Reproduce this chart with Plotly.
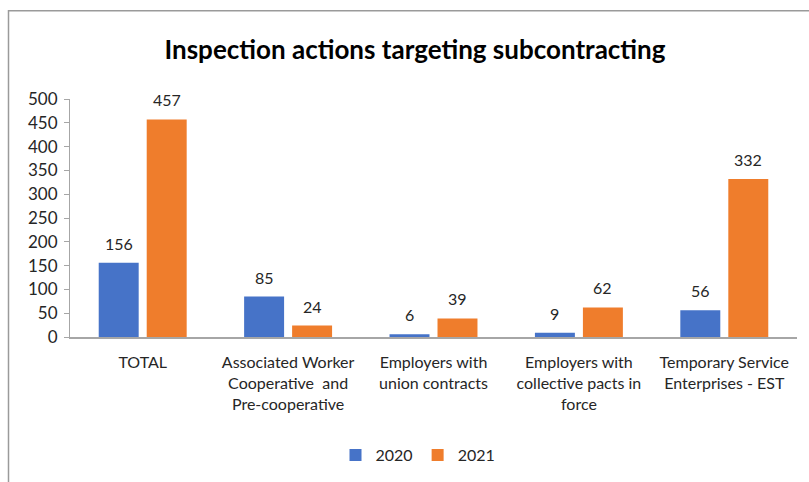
import plotly.graph_objects as go

categories = ["TOTAL",
              "Associated Worker<br>Cooperative  and<br>Pre-cooperative",
              "Employers with<br>union contracts",
              "Employers with<br>collective pacts in<br>force",
              "Temporary Service<br>Enterprises - EST"]
values_2020 = [156, 85, 6, 9, 56]
values_2021 = [457, 24, 39, 62, 332]
series_names = ["2020", "2021"]
y_ticks = [0, 50, 100, 150, 200, 250, 300, 350, 400, 450, 500]

W, H = 809, 482
L, R, T, B = 70, 12, 99, 144
FONT = "Lato, Carlito, Calibri, sans-serif"
TXT = "#262626"
FS = 16

fig = go.Figure()
fig.add_trace(go.Bar(x=categories, y=values_2020, name=series_names[0],
                     marker=dict(color="#4673C8", line=dict(width=0))))
fig.add_trace(go.Bar(x=categories, y=values_2021, name=series_names[1],
                     marker=dict(color="#EF7D2C", line=dict(width=0))))

for vals, shift in ((values_2020, -24), (values_2021, 24)):
    for c, v in zip(categories, vals):
        fig.add_annotation(x=c, y=v, text=str(v), showarrow=False,
                           xshift=shift, yanchor="bottom", yshift=8,
                           font=dict(size=FS, color=TXT, family=FONT))

pw = W - L - R
ph = H - T - B
fig.add_shape(type="rect", xref="paper", yref="paper",
              x0=(8.5 - L) / pw, x1=1 + (R + 20) / pw,
              y0=-(B + 20) / ph, y1=1 + (T - 10.5) / ph,
              line=dict(color="#9a9a9a", width=1.5), fillcolor="rgba(0,0,0,0)",
              layer="below")

fig.update_layout(
    width=W, height=H,
    margin=dict(l=L, r=R, t=T, b=B),
    paper_bgcolor="white", plot_bgcolor="white",
    barmode="group", bargap=0.34, bargroupgap=0.167,
    title=dict(text="<b>Inspection actions targeting subcontracting</b>",
               x=(415) / W, xanchor="center", y=1 - 50 / H, yanchor="middle",
               font=dict(size=26, color="#000000", family=FONT)),
    font=dict(family=FONT, color=TXT, size=FS),
    legend=dict(orientation="h", x=(418 - L) / pw, xanchor="center",
                y=-(455 - (H - B)) / ph, yanchor="middle",
                font=dict(size=FS, color=TXT, family=FONT),
                itemwidth=30, traceorder="normal"),
    showlegend=True,
)
fig.update_yaxes(range=[0, 500], tickvals=y_ticks, showgrid=False,
                 showline=True, linecolor="#a6a6a6", linewidth=1,
                 ticks="outside", ticklen=5, tickcolor="#a6a6a6",
                 ticklabelstandoff=3,
                 tickfont=dict(size=17, color=TXT, family=FONT), zeroline=False)
fig.update_xaxes(showline=True, linecolor="#a6a6a6", linewidth=1.5,
                 ticks="", ticklabelstandoff=10,
                 tickfont=dict(size=FS, color=TXT, family=FONT))

fig.write_html("out.html")
